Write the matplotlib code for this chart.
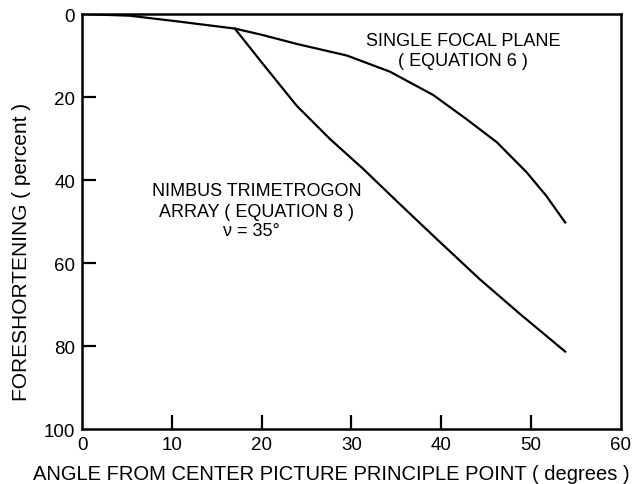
import matplotlib
matplotlib.use("Agg")
import matplotlib.pyplot as plt

plt.rcParams['font.family'] = ['Liberation Sans', 'DejaVu Sans']

# single focal plane (equation 6)
angle_sfp = [0, 5.3, 10.9, 17.0, 20.0, 23.9, 29.5, 34.3, 39.1, 42.8, 46.2, 49.5, 51.7, 53.8]
fore_sfp = [0, 0.4, 1.85, 3.5, 5.0, 7.2, 10.0, 13.9, 19.5, 25.3, 30.9, 38.1, 43.8, 50.2]

# nimbus trimetrogon array (equation 8)
angle_nim = [17.0, 20.2, 23.9, 27.6, 31.3, 35.2, 39.1, 44.3, 48.8, 53.8]
fore_nim = [3.5, 12.2, 22.1, 30.1, 37.3, 45.4, 53.4, 63.9, 72.3, 81.3]

xticks = [0, 10, 20, 30, 40, 50, 60]
yticks = [0, 20, 40, 60, 80, 100]

fig = plt.figure(figsize=(6.42, 4.85), dpi=100)
ax = fig.add_axes([0.128, 0.113, 0.839, 0.856])

ax.plot(angle_sfp, fore_sfp, color='black', lw=1.6)
ax.plot(angle_nim, fore_nim, color='black', lw=1.6)

ax.set_xlim(0, 60)
ax.set_ylim(100, 0)
ax.set_xticks(xticks)
ax.set_yticks(yticks)
ax.tick_params(direction='in', length=10, width=1.6, labelsize=13.5, pad=5)
for s in ax.spines.values():
    s.set_linewidth(1.8)

# no tick marks in the corners, labels only
for axis in (ax.xaxis, ax.yaxis):
    ticks = axis.get_major_ticks()
    ticks[0].tick1line.set_visible(False)
    ticks[-1].tick1line.set_visible(False)

ax.set_xlabel('ANGLE FROM CENTER PICTURE PRINCIPLE POINT ( degrees )', fontsize=14.5)
ax.xaxis.set_label_coords(0.462, -0.085)
ax.set_ylabel('FORESHORTENING ( percent )', fontsize=15)
ax.yaxis.set_label_coords(-0.095, 0.43)

ax.text(42.4, 6.3, 'SINGLE FOCAL PLANE', ha='center', va='center', fontsize=13)
ax.text(42.4, 11.3, '( EQUATION 6 )', ha='center', va='center', fontsize=13)
ax.text(19.4, 42.6, 'NIMBUS TRIMETROGON', ha='center', va='center', fontsize=13)
ax.text(19.4, 47.5, 'ARRAY ( EQUATION 8 )', ha='center', va='center', fontsize=13)
ax.text(18.9, 52.1, 'ν = 35°', ha='center', va='center', fontsize=13)

fig.savefig('out.png', dpi=100)
